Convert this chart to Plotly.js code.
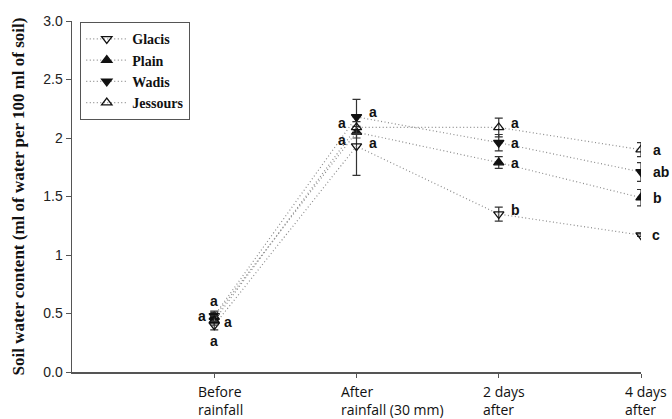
<!DOCTYPE html>
<html><head><meta charset="utf-8">
<script src="https://cdn.plot.ly/plotly-3.0.1.min.js"></script>
<style>html,body{margin:0;padding:0;background:#fff}#chart{width:672px;height:419px}</style>
</head><body><div id="chart"></div>
<script>
const categories = [0, 1, 2, 3];
const categoryLabels = ["Before<br>rainfall", "After<br>rainfall (30 mm)", "2 days<br>after", "4 days<br>after"];
const seriesNames = ["Glacis", "Plain", "Wadis", "Jessours"];
const glacis = [0.40, 1.93, 1.35, 1.17];
const glacisErr = [0.04, 0.25, 0.06, 0.01];
const glacisLetters = ["a", "a", "b", "c"];
const plain = [0.47, 2.05, 1.79, 1.49];
const plainErr = [0.04, 0.05, 0.05, 0.07];
const plainLetters = ["a", "a", "a", "b"];
const wadis = [0.48, 2.18, 1.96, 1.71];
const wadisErr = [0.04, 0.15, 0.07, 0.08];
const wadisLetters = ["a", "a", "a", "ab"];
const jessours = [0.44, 2.09, 2.09, 1.90];
const jessoursErr = [0.04, 0.05, 0.08, 0.06];
const jessoursLetters = ["a", "a", "a", "a"];
const yTickVals = [0, 0.5, 1, 1.5, 2, 2.5, 3];
const yTickText = ["0.0", "0.5", "1", "1.5", "2", "2.5", "3.0"];

const values = [glacis, plain, wadis, jessours];
const errs = [glacisErr, plainErr, wadisErr, jessoursErr];
const letters = [glacisLetters, plainLetters, wadisLetters, jessoursLetters];
const symbols = ["triangle-down-open", "triangle-up", "triangle-down", "triangle-up-open"];

const traces = seriesNames.map((name, i) => ({
  type: "scatter", mode: "lines+markers", name: name,
  x: categories, y: values[i],
  line: {color: "#8c8c8c", width: 1.2, dash: "1px,2.5px"},
  marker: {symbol: symbols[i], size: 9, color: "#111", line: {color: "#111", width: 1.3}},
  error_y: {type: "data", array: errs[i], visible: true, color: "#333", thickness: 1.2, width: 4}
}));

// label placement offsets [xshift, yshift, xanchor] per series per category
const place = [
  [[0, -16, "center"], [10, 3, "left"], [10, 4, "left"], [9, 0, "left"]],
  [[-12, 1, "center"], [-9, -8, "right"], [10, 0, "left"], [10, 0, "left"]],
  [[0, 15, "center"], [10, 5, "left"], [10, 0, "left"], [10, 0, "left"]],
  [[14, -1, "center"], [-9, 4, "right"], [10, 4, "left"], [10, 0, "left"]]
];
const annotations = [];
seriesNames.forEach((n, i) => {
  categories.forEach((c, j) => {
    const p = place[i][j];
    annotations.push({x: c, y: values[i][j], xref: "x", yref: "y", text: letters[i][j],
      showarrow: false, xshift: p[0], yshift: p[1], xanchor: p[2], yanchor: "middle",
      font: {family: "Liberation Sans, Arial, sans-serif", size: 14, color: "#111", weight: "bold"}});
  });
});
categories.forEach((c, j) => {
  annotations.push({x: c, y: 0, xref: "x", yref: "paper", text: categoryLabels[j],
    showarrow: false, xanchor: "left", yanchor: "top", align: "left", xshift: -18, yshift: -8,
    font: {family: "Open Sans, sans-serif", size: 14, color: "#111"}});
});

const layout = {
  width: 672, height: 419,
  margin: {l: 72, r: 31, t: 21, b: 47},
  paper_bgcolor: "#fff", plot_bgcolor: "#fff",
  showlegend: true,
  legend: {x: 0.014, y: 0.997, xanchor: "left", yanchor: "top", bgcolor: "#fff",
    bordercolor: "#555", borderwidth: 1.3, tracegroupgap: 0, itemwidth: 41,
    font: {family: "Liberation Serif, Times New Roman, serif", size: 14, color: "#111", weight: "bold"}},
  xaxis: {range: [-1, 3], tickvals: categories, showticklabels: false,
    showgrid: false, zeroline: false, showline: true, linecolor: "#555", linewidth: 1.5,
    ticks: "outside", ticklen: 4, tickcolor: "#555", tickwidth: 1},
  yaxis: {range: [0, 3], tickvals: yTickVals, ticktext: yTickText,
    showgrid: false, zeroline: false, showline: true, linecolor: "#555", linewidth: 1.5,
    ticks: "outside", ticklen: 5, tickcolor: "#555", tickwidth: 1,
    tickfont: {family: "Liberation Sans, Arial, sans-serif", size: 14, color: "#222"},
    title: {text: "Soil water content (ml of water per 100 ml of soil)", standoff: 14,
      font: {family: "Liberation Serif, Times New Roman, serif", size: 17, color: "#111", weight: "bold"}}},
  annotations: annotations
};
Plotly.newPlot("chart", traces, layout, {displayModeBar: false, staticPlot: true});
</script></body></html>
